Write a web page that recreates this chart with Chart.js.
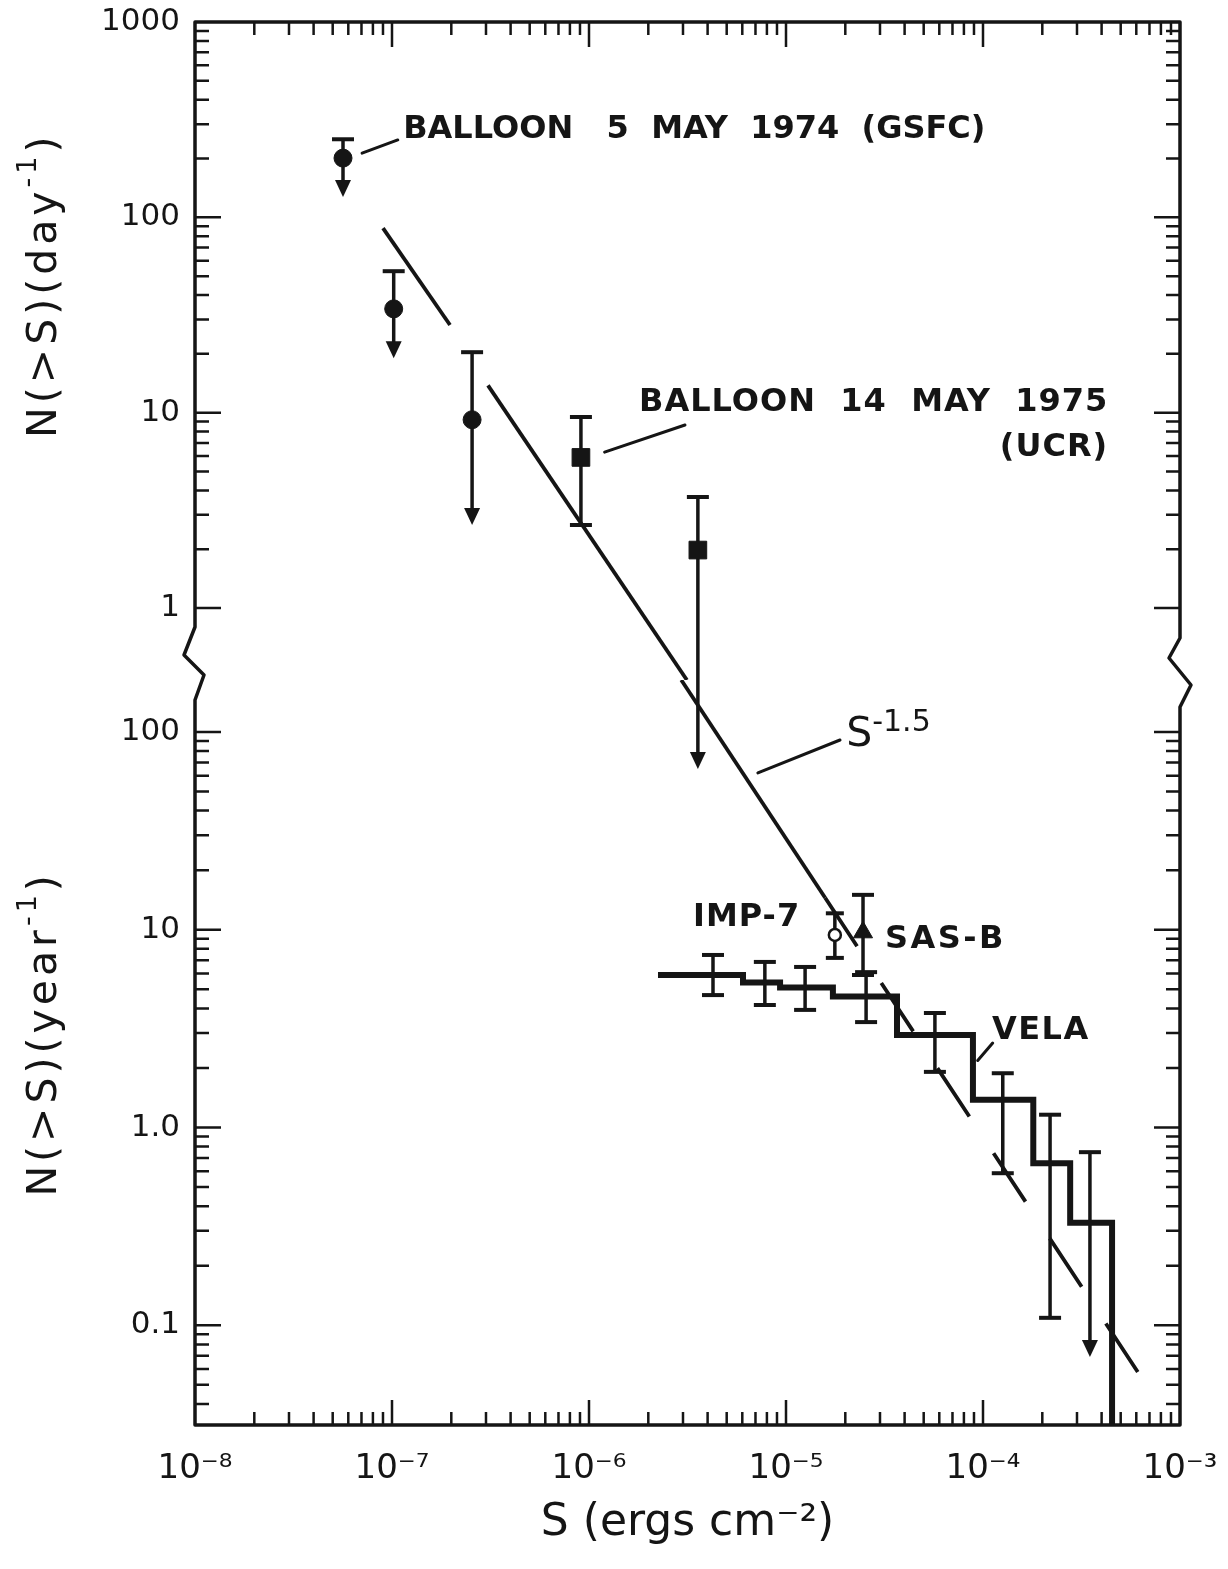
<!DOCTYPE html>
<html>
<head>
<meta charset="utf-8">
<script src="https://cdn.jsdelivr.net/npm/chart.js@4.4.1/dist/chart.umd.min.js"></script>
<style>
  html, body { margin: 0; padding: 0; background: #ffffff; }
  canvas { display: block; }
</style>
</head>
<body>
<canvas id="c" width="1228" height="1569" style="width:1228px;height:1569px"></canvas>
<script>
// ---------------- data ----------------
const xTickValues = [1e-8, 1e-7, 1e-6, 1e-5, 1e-4, 1e-3];
const xTickLabels = ['10⁻⁸', '10⁻⁷', '10⁻⁶', '10⁻⁵', '10⁻⁴', '10⁻³'];
const dayTickValues = [1, 10, 100, 1000];
const dayTickLabels = ['1', '10', '100', '1000'];
const yearTickValues = [0.1, 1, 10, 100];
const yearTickLabels = ['0.1', '1.0', '10', '100'];

const sRange = [1e-8, 1e-3];          // S (ergs cm^-2)
const dayRange = [0.428, 1000];       // N(>S) per day  (upper panel)
const yearRange = [0.0313, 183];      // N(>S) per year (lower panel)

// Balloon 5 May 1974 (GSFC), per day: upper limits
const gsfcS = [5.64e-8, 1.02e-7, 2.55e-7];
const gsfcN = [201, 34, 9.2];
const gsfcUpper = [251, 53, 20.4];
const gsfcLimitTo = [127, 19, 2.66];

// Balloon 14 May 1975 (UCR), per day
const ucrS = [9.1e-7, 3.57e-6];
const ucrN = [5.9, 1.98];
const ucrUpper = [9.5, 3.7];
const ucrLower = [2.66, null];
const ucrLimitTo = [null, 0.15];

// IMP-7, per year
const impS = [1.77e-5];
const impN = [9.4];
const impUpper = [12.1];
const impLower = [7.2];

// SAS-B, per year
const sasS = [2.46e-5];
const sasN = [9.7];
const sasUpper = [15];
const sasLower = [5.9];

// VELA integral histogram, per year (bin left edges and levels; last level = falls to zero)
const velaEdges = [2.24e-6, 6.05e-6, 9.33e-6, 1.73e-5, 3.66e-5, 8.89e-5, 1.80e-4, 2.77e-4, 4.52e-4];
const velaLevels = [5.9, 5.4, 5.1, 4.6, 2.93, 1.38, 0.66, 0.33, 0.01];
// VELA error bars
const velaBarS = [4.26e-6, 7.81e-6, 1.25e-5, 2.55e-5, 5.70e-5, 1.26e-4, 2.19e-4, 3.49e-4];
const velaBarUpper = [7.45, 6.87, 6.48, 6.1, 3.79, 1.88, 1.16, 0.75];
const velaBarLower = [4.67, 4.16, 3.93, 3.41, 1.91, 0.587, 0.109, null];
const velaLimitTo = [null, null, null, null, null, null, null, 0.069];

// S^-1.5 line (end points)
const powDayS1 = [9.0e-8, 1.97e-7];
const powDayN1 = [88, 28.1];
const powDayS2 = [3.07e-7, 3.14e-6];
const powDayN2 = [13.8, 0.428];
const powYearS = [2.94e-6, 1.58e-5];
const powYearN = [183, 14.5];
const powDashS = [1.58e-5, 7.3e-4];
const powDashN = [14.5, 0.0443];

// ---------------- styling ----------------
const INK = '#151515';
const FAM = '"DejaVu Sans", "Liberation Sans", sans-serif';

function pts(xs, ys) { return xs.map((x, i) => ({ x: x, y: ys[i] })); }
function labelFor(values, labels, v) {
  const i = values.findIndex(t => Math.abs(Math.log10(t) - Math.log10(v)) < 1e-6);
  return i >= 0 ? labels[i] : '';
}

// annotations (anchored in data units)
const notes = [
  { axis: 'yDay', s: 1.14e-7, n: 280, align: 'left', weight: 'bold', size: 32, ls: 0, segs: [{ t: 'BALLOON   5  MAY  1974  (GSFC)' }] },
  { axis: 'yDay', s: 4.32e-4, n: 11.3, align: 'right', weight: 'bold', size: 32, ls: 1, segs: [{ t: 'BALLOON  14  MAY  1975' }] },
  { axis: 'yDay', s: 4.32e-4, n: 6.6, align: 'right', weight: 'bold', size: 32, ls: 1, segs: [{ t: '(UCR)' }] },
  { axis: 'yYear', s: 2.02e-5, n: 96, align: 'left', weight: 'normal', size: 41, ls: 0, sup: 0.72, raise: 0.3, segs: [{ t: 'S' }, { t: '-1.5', sup: true }] },
  { axis: 'yYear', s: 1.18e-5, n: 11.5, align: 'right', weight: 'bold', size: 32, ls: 1, segs: [{ t: 'IMP-7' }] },
  { axis: 'yYear', s: 3.18e-5, n: 8.9, align: 'left', weight: 'bold', size: 32, ls: 2.5, segs: [{ t: 'SAS-B' }] },
  { axis: 'yYear', s: 1.11e-4, n: 3.1, align: 'left', weight: 'bold', size: 32, ls: 1.5, segs: [{ t: 'VELA' }] }
];
const leaders = [
  { axis: 'yDay', from: [7.05e-8, 213], to: [1.07e-7, 249] },
  { axis: 'yDay', from: [1.20e-6, 6.28], to: [3.07e-6, 8.65] },
  { axis: 'yYear', from: [7.2e-6, 62], to: [1.88e-5, 91] },
  { axis: 'yYear', from: [9.4e-5, 2.18], to: [1.12e-4, 2.67] }
];

const errorSeries = [
  { axis: 'yDay', s: gsfcS, hi: gsfcUpper, lo: [null, null, null], lim: gsfcLimitTo, cap: 22 },
  { axis: 'yDay', s: ucrS, hi: ucrUpper, lo: ucrLower, lim: ucrLimitTo, cap: 22 },
  { axis: 'yYear', s: impS, hi: impUpper, lo: impLower, lim: [null], cap: 18 },
  { axis: 'yYear', s: sasS, hi: sasUpper, lo: sasLower, lim: [null], cap: 22 },
  { axis: 'yYear', s: velaBarS, hi: velaBarUpper, lo: velaBarLower, lim: velaLimitTo, cap: 22 }
];

function drawRich(ctx, segs, x, y, size, align, weight, ls, supScale, raise) {
  const sc = supScale || 0.66, rz = raise == null ? 0.42 : raise;
  ctx.letterSpacing = (ls || 0) + 'px';
  let total = 0;
  const parts = segs.map(sg => {
    const fs = sg.sup ? Math.round(size * sc) : size;
    ctx.font = weight + ' ' + fs + 'px ' + FAM;
    const w = ctx.measureText(sg.t).width;
    total += w;
    return { t: sg.t, sup: sg.sup, fs: fs, w: w };
  });
  let cx = align === 'right' ? x - total : (align === 'center' ? x - total / 2 : x);
  ctx.textAlign = 'left';
  ctx.textBaseline = 'middle';
  for (const p of parts) {
    ctx.font = weight + ' ' + p.fs + 'px ' + FAM;
    ctx.fillText(p.t, cx, p.sup ? y - size * rz : y);
    cx += p.w;
  }
  ctx.letterSpacing = '0px';
}

function logMarks(min, max) {
  const out = [];
  const e0 = Math.floor(Math.log10(min)), e1 = Math.ceil(Math.log10(max));
  for (let e = e0; e <= e1; e++) {
    for (let m = 1; m <= 9; m++) {
      const v = m * Math.pow(10, e);
      if (v >= min * (1 - 1e-9) && v <= max * (1 + 1e-9)) out.push({ v: v, major: m === 1 });
    }
  }
  return out;
}

const figurePlugin = {
  id: 'figure',
  beforeDatasetsDraw(chart) {
    const ctx = chart.ctx, X = chart.scales.x;
    ctx.save();
    ctx.strokeStyle = INK; ctx.fillStyle = INK; ctx.lineCap = 'butt';
    for (const ser of errorSeries) {
      const Y = chart.scales[ser.axis];
      ser.s.forEach((s, i) => {
        const x = X.getPixelForValue(s);
        const yTop = Y.getPixelForValue(ser.hi[i]);
        let yEnd;
        const hasLim = ser.lim[i] != null;
        if (hasLim) yEnd = Y.getPixelForValue(ser.lim[i]) - 15;
        else yEnd = Y.getPixelForValue(ser.lo[i]);
        ctx.lineWidth = 3.5;
        ctx.beginPath(); ctx.moveTo(x, yTop); ctx.lineTo(x, yEnd); ctx.stroke();
        ctx.lineWidth = 4;
        ctx.beginPath(); ctx.moveTo(x - ser.cap / 2, yTop); ctx.lineTo(x + ser.cap / 2, yTop); ctx.stroke();
        if (!hasLim && ser.lo[i] != null) {
          ctx.beginPath(); ctx.moveTo(x - ser.cap / 2, yEnd); ctx.lineTo(x + ser.cap / 2, yEnd); ctx.stroke();
        }
        if (hasLim) {
          const tip = Y.getPixelForValue(ser.lim[i]);
          ctx.beginPath();
          ctx.moveTo(x - 8, tip - 17); ctx.lineTo(x + 8, tip - 17); ctx.lineTo(x, tip); ctx.closePath();
          ctx.fill();
        }
      });
    }
    ctx.restore();
  },
  afterDatasetsDraw(chart) {
    const ctx = chart.ctx;
    const { left: L, right: R, top: T, bottom: B } = chart.chartArea;
    const X = chart.scales.x, YD = chart.scales.yDay, YY = chart.scales.yYear;
    const yb = YD.bottom;
    ctx.save();
    ctx.strokeStyle = INK; ctx.fillStyle = INK;
    // frame with axis breaks
    ctx.lineWidth = 3.5; ctx.lineJoin = 'round'; ctx.lineCap = 'round';
    ctx.beginPath();
    ctx.moveTo(L, yb - 53); ctx.lineTo(L, T); ctx.lineTo(R, T); ctx.lineTo(R, yb - 42);
    ctx.lineTo(R - 11, yb - 22); ctx.lineTo(R + 11, yb + 5); ctx.lineTo(R, yb + 27);
    ctx.lineTo(R, B); ctx.lineTo(L, B); ctx.lineTo(L, yb + 20);
    ctx.lineTo(L + 9, yb - 5); ctx.lineTo(L - 11, yb - 25); ctx.closePath();
    ctx.stroke();
    // tick marks (inside, all four sides)
    ctx.lineWidth = 2.5; ctx.lineCap = 'butt';
    ctx.beginPath();
    for (const t of logMarks(sRange[0], sRange[1])) {
      const p = X.getPixelForValue(t.v);
      if (p <= L + 1 || p >= R - 1) continue;
      const len = t.major ? 25 : 13;
      ctx.moveTo(p, B); ctx.lineTo(p, B - len);
      ctx.moveTo(p, T); ctx.lineTo(p, T + len);
    }
    const yMarks = [[YD, 1, dayRange[1]], [YY, 0.04, 100]];
    for (const [S, lo, hi] of yMarks) {
      for (const t of logMarks(lo, hi)) {
        const p = S.getPixelForValue(t.v);
        if (p <= T + 1 || p >= B - 1) continue;
        const len = t.major ? 26 : 14;
        ctx.moveTo(L, p); ctx.lineTo(L + len, p);
        ctx.moveTo(R, p); ctx.lineTo(R - len, p);
      }
    }
    ctx.stroke();
    // leader lines
    ctx.lineWidth = 3; ctx.lineCap = 'round';
    for (const ld of leaders) {
      const Y = chart.scales[ld.axis];
      ctx.beginPath();
      ctx.moveTo(X.getPixelForValue(ld.from[0]), Y.getPixelForValue(ld.from[1]));
      ctx.lineTo(X.getPixelForValue(ld.to[0]), Y.getPixelForValue(ld.to[1]));
      ctx.stroke();
    }
    // labels
    for (const nt of notes) {
      const Y = chart.scales[nt.axis];
      drawRich(ctx, nt.segs, X.getPixelForValue(nt.s), Y.getPixelForValue(nt.n), nt.size, nt.align, nt.weight, nt.ls, nt.sup, nt.raise);
    }
    // y-axis titles
    const titles = [
      { S: YD, f: 0.40, segs: [{ t: 'N(>S)(day' }, { t: '-1', sup: true }, { t: ')' }] },
      { S: YY, f: 0.475, segs: [{ t: 'N(>S)(year' }, { t: '-1', sup: true }, { t: ')' }] }
    ];
    for (const tt of titles) {
      ctx.save();
      ctx.translate(45, tt.S.top + (tt.S.bottom - tt.S.top) * tt.f);
      ctx.rotate(-Math.PI / 2);
      drawRich(ctx, tt.segs, 0, 0, 41, 'center', 'normal', 4, 0.66, 0.4);
      ctx.restore();
    }
    ctx.restore();
  }
};

const lineBase = { showLine: true, borderColor: INK, pointRadius: 0, borderWidth: 3.8, borderCapStyle: 'butt' };

new Chart(document.getElementById('c'), {
  type: 'scatter',
  data: {
    datasets: [
      { label: 'IMP-7', data: pts(impS, impN), yAxisID: 'yYear', pointStyle: 'circle', pointRadius: 6,
        backgroundColor: '#ffffff', borderColor: INK, borderWidth: 2.5 },
      { label: 'SAS-B', data: pts(sasS, sasN), yAxisID: 'yYear', pointStyle: 'triangle', pointRadius: 11,
        backgroundColor: INK, borderColor: INK, borderWidth: 1 },
      { label: 'BALLOON 5 MAY 1974 (GSFC)', data: pts(gsfcS, gsfcN), yAxisID: 'yDay', pointStyle: 'circle', pointRadius: 9,
        backgroundColor: INK, borderColor: INK, borderWidth: 1 },
      { label: 'BALLOON 14 MAY 1975 (UCR)', data: pts(ucrS, ucrN), yAxisID: 'yDay', pointStyle: 'rect', pointRadius: 12.5,
        backgroundColor: INK, borderColor: INK, borderWidth: 1 },
      Object.assign({ label: 'S^-1.5', data: pts(powDayS1, powDayN1), yAxisID: 'yDay' }, lineBase),
      Object.assign({ label: 'S^-1.5 ', data: pts(powDayS2, powDayN2), yAxisID: 'yDay' }, lineBase),
      Object.assign({ label: 'S^-1.5  ', data: pts(powYearS, powYearN), yAxisID: 'yYear' }, lineBase),
      Object.assign({ label: 'S^-1.5 (extrapolated)', data: pts(powDashS, powDashN), yAxisID: 'yYear', borderDash: [58, 44] }, lineBase),
      { label: 'VELA', data: pts(velaEdges, velaLevels), yAxisID: 'yYear', showLine: true, stepped: true,
        borderColor: INK, borderWidth: 6, pointRadius: 0, borderJoinStyle: 'miter', borderCapStyle: 'butt' }
    ]
  },
  options: {
    responsive: false,
    animation: false,
    devicePixelRatio: 1,
    layout: { padding: { left: 0, right: 48, top: 22, bottom: 0 } },
    plugins: { legend: { display: false }, tooltip: { enabled: false } },
    scales: {
      x: {
        type: 'logarithmic', position: 'bottom', min: sRange[0], max: sRange[1],
        grid: { display: false, drawTicks: false }, border: { display: false },
        ticks: { autoSkip: false, maxRotation: 0, minRotation: 0, padding: 0, color: INK,
          font: { family: FAM, size: 34, lineHeight: 2.6 },
          callback: (v) => labelFor(xTickValues, xTickLabels, v) },
        title: { display: true, text: 'S (ergs cm⁻²)', color: INK, font: { family: FAM, size: 44 },
          padding: { top: 0, bottom: 19 } },
        afterFit: (s) => { s.height = 144; }
      },
      yYear: {
        type: 'logarithmic', position: 'left', stack: 'left', stackWeight: 745,
        min: yearRange[0], max: yearRange[1],
        grid: { display: false, drawTicks: false }, border: { display: false },
        ticks: { autoSkip: false, padding: 15, color: INK, font: { family: FAM, size: 31, lineHeight: 0.2 },
          callback: (v) => labelFor(yearTickValues, yearTickLabels, v) },
        afterFit: (s) => { s.width = 195; }
      },
      yDay: {
        type: 'logarithmic', position: 'left', stack: 'left', stackWeight: 658,
        min: dayRange[0], max: dayRange[1],
        grid: { display: false, drawTicks: false }, border: { display: false },
        ticks: { autoSkip: false, padding: 15, color: INK, font: { family: FAM, size: 31, lineHeight: 0.2 },
          callback: (v) => labelFor(dayTickValues, dayTickLabels, v) },
        afterFit: (s) => { s.width = 195; }
      }
    }
  },
  plugins: [figurePlugin]
});
</script>
</body>
</html>
